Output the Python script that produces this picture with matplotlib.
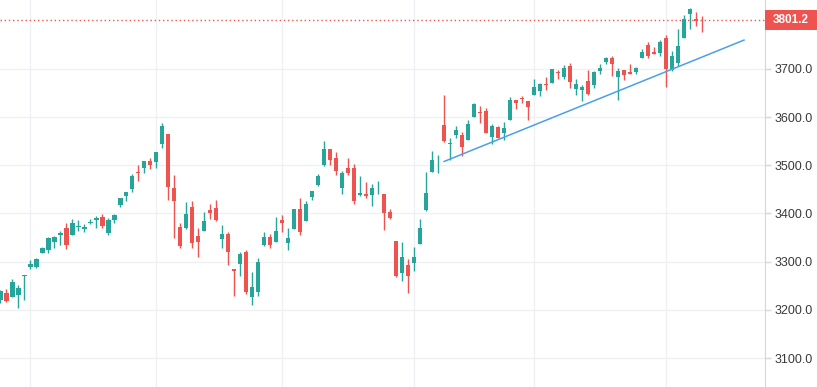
import pandas as pd
import numpy as np
import matplotlib
matplotlib.use("Agg")
import matplotlib.pyplot as plt
from matplotlib.patches import Rectangle
from matplotlib.transforms import blended_transform_factory

# daily candles, 27 Jul 2020 - 12 Jan 2021
holidays = ['2020-09-07', '2020-11-26', '2020-12-25', '2021-01-01']
dates = [d for d in pd.bdate_range('2020-07-27', '2021-01-12') if d.strftime('%Y-%m-%d') not in holidays]

opens = [3219.84, 3234.27, 3227.22, 3231.76, 3270.45, 3288.26, 3289.92, 3317.37, 3323.17, 3340.05,
         3356.04, 3370.34, 3355.46, 3372.95, 3368.66, 3380.86, 3387.04, 3392.51, 3360.48, 3386.01,
         3418.09, 3435.95, 3449.97, 3485.14, 3494.69, 3509.73, 3507.44, 3543.76, 3564.74, 3453.60,
         3371.88, 3369.82, 3412.56, 3352.70, 3363.56, 3407.73, 3411.23, 3346.86, 3357.38, 3285.57,
         3295.75, 3320.11, 3226.14, 3236.66, 3333.90, 3350.92, 3341.21, 3385.87, 3338.94, 3367.27,
         3408.74, 3384.56, 3434.28, 3459.67, 3500.02, 3534.01, 3515.47, 3453.72, 3493.50, 3493.66,
         3439.38, 3439.91, 3438.50, 3464.90, 3441.42, 3403.15, 3342.48, 3277.17, 3293.59, 3296.20,
         3336.25, 3406.46, 3485.74, 3508.34, 3583.04, 3543.26, 3563.22, 3562.67, 3552.57, 3600.16,
         3610.31, 3612.09, 3559.41, 3579.31, 3566.82, 3594.52, 3635.50, 3638.55, 3634.18, 3645.87,
         3653.78, 3668.28, 3670.94, 3694.73, 3683.05, 3705.98, 3659.13, 3656.08, 3675.27, 3666.41,
         3696.25, 3713.65, 3722.39, 3684.28, 3698.08, 3693.42, 3694.03, 3723.03, 3750.01, 3736.19,
         3733.27, 3764.61, 3698.02, 3712.20, 3764.71, 3815.05, 3803.14, 3801.62]
highs = [3241.43, 3243.72, 3264.74, 3250.92, 3272.17, 3302.73, 3306.84, 3330.77, 3351.03, 3352.54,
         3363.29, 3381.01, 3387.89, 3387.24, 3378.51, 3387.59, 3395.06, 3399.54, 3390.80, 3399.96,
         3432.09, 3444.21, 3481.07, 3501.38, 3509.23, 3514.77, 3528.03, 3588.11, 3564.85, 3479.15,
         3379.97, 3424.77, 3425.30, 3368.95, 3402.93, 3419.48, 3428.92, 3375.17, 3362.27, 3285.57,
         3320.31, 3323.35, 3278.70, 3306.88, 3360.74, 3357.92, 3393.56, 3397.18, 3369.10, 3409.57,
         3431.56, 3426.26, 3447.28, 3482.34, 3549.85, 3534.01, 3527.94, 3489.08, 3515.76, 3502.42,
         3476.93, 3464.86, 3460.53, 3466.46, 3441.42, 3409.51, 3342.48, 3341.05, 3304.93, 3330.14,
         3389.49, 3486.25, 3529.05, 3521.58, 3645.99, 3557.22, 3581.16, 3569.02, 3593.66, 3628.51,
         3623.11, 3619.09, 3585.22, 3581.23, 3589.81, 3642.31, 3635.50, 3644.31, 3634.18, 3678.45,
         3670.96, 3682.73, 3699.20, 3697.41, 3708.45, 3712.39, 3678.49, 3665.91, 3697.61, 3695.29,
         3711.27, 3725.12, 3726.70, 3702.90, 3698.26, 3711.24, 3703.82, 3740.51, 3756.12, 3744.63,
         3760.20, 3769.99, 3737.83, 3783.04, 3811.55, 3826.69, 3817.86, 3810.78]
lows = [3214.25, 3216.17, 3227.22, 3204.13, 3220.26, 3284.53, 3286.37, 3317.37, 3318.14, 3328.72,
        3335.44, 3326.44, 3355.46, 3363.35, 3361.64, 3379.22, 3370.15, 3369.66, 3354.69, 3379.31,
        3413.13, 3425.84, 3444.15, 3468.35, 3484.32, 3493.25, 3494.60, 3535.23, 3427.41, 3349.63,
        3329.27, 3366.84, 3329.25, 3310.47, 3363.56, 3389.25, 3384.45, 3328.82, 3292.40, 3229.10,
        3270.95, 3232.57, 3209.45, 3228.44, 3332.91, 3327.54, 3340.47, 3361.39, 3323.69, 3367.27,
        3354.54, 3384.56, 3428.15, 3458.07, 3499.61, 3500.86, 3480.55, 3440.89, 3480.45, 3419.93,
        3435.65, 3433.06, 3415.34, 3440.45, 3364.86, 3388.71, 3268.89, 3259.82, 3233.94, 3279.74,
        3336.25, 3405.17, 3485.74, 3484.34, 3547.48, 3511.91, 3557.00, 3518.58, 3552.57, 3600.16,
        3588.68, 3567.33, 3543.84, 3556.85, 3552.77, 3594.52, 3617.76, 3629.33, 3594.39, 3645.87,
        3644.84, 3657.17, 3670.94, 3678.88, 3678.83, 3660.54, 3645.18, 3633.40, 3645.84, 3659.62,
        3688.57, 3710.87, 3685.84, 3636.48, 3676.16, 3689.28, 3689.32, 3723.03, 3723.31, 3730.21,
        3726.88, 3662.71, 3695.07, 3705.34, 3764.71, 3783.60, 3789.02, 3776.51]
closes = [3239.41, 3218.44, 3258.44, 3246.22, 3271.12, 3294.61, 3306.51, 3327.77, 3349.16, 3351.28,
          3360.47, 3333.69, 3380.35, 3373.43, 3372.85, 3381.99, 3389.78, 3374.85, 3385.51, 3397.16,
          3431.28, 3443.62, 3478.73, 3484.55, 3508.01, 3500.31, 3526.65, 3580.84, 3455.06, 3426.96,
          3331.84, 3398.96, 3339.19, 3340.97, 3383.54, 3401.20, 3385.49, 3357.01, 3319.47, 3281.06,
          3315.57, 3236.92, 3246.59, 3298.46, 3351.60, 3335.47, 3363.00, 3380.80, 3348.42, 3408.63,
          3360.97, 3419.44, 3446.83, 3477.14, 3534.22, 3511.93, 3488.67, 3483.34, 3483.81, 3426.92,
          3443.12, 3435.56, 3453.49, 3465.39, 3400.97, 3390.68, 3271.03, 3310.11, 3269.96, 3310.24,
          3369.16, 3443.44, 3510.45, 3509.44, 3550.50, 3545.53, 3572.66, 3537.01, 3585.15, 3626.91,
          3609.53, 3567.79, 3581.87, 3557.54, 3577.59, 3635.41, 3629.65, 3638.35, 3621.63, 3662.45,
          3669.01, 3666.72, 3699.12, 3691.96, 3702.25, 3672.82, 3668.10, 3663.46, 3647.49, 3694.62,
          3701.17, 3722.48, 3709.41, 3694.92, 3687.26, 3690.01, 3703.06, 3735.36, 3727.04, 3732.04,
          3756.07, 3700.65, 3726.86, 3748.14, 3803.79, 3824.68, 3799.61, 3801.19]

# trend line drawn on the chart (start / end)
trend_dates = ['2020-11-09', '2021-01-21']
trend_prices = [3508, 3760]

price_ticks = [3100, 3200, 3300, 3400, 3500, 3600, 3700]

up_color = '#26a69a'
down_color = '#ef5350'

df = pd.DataFrame({'open': opens, 'high': highs, 'low': lows, 'close': closes}, index=dates)
x = np.arange(len(df))
up = df['close'] >= df['open']
colors = np.where(up, up_color, down_color)

fig = plt.figure(figsize=(8.17, 3.87), dpi=100)
ax = fig.add_axes([0, 0, 765 / 817, 1])

# grid: month starts + price levels
month_starts = [i for i in range(1, len(df)) if df.index[i].month != df.index[i - 1].month]
for m in month_starts:
    ax.axvline(m, color='#eef0f3', lw=1, zorder=0)
for p in price_ticks:
    ax.axhline(p, color='#eef0f3', lw=1, zorder=0)

# wicks and bodies
ax.vlines(x, df['low'], df['high'], colors=colors, lw=1, zorder=2)
body_bottom = np.minimum(df['open'], df['close'])
body_height = np.maximum(np.abs(df['close'] - df['open']), 1.5)
ax.bar(x, body_height, bottom=body_bottom, width=0.75, color=colors, lw=0, zorder=3)

# trend line (x position counted in trading days)
all_days = list(df.index) + list(pd.bdate_range(df.index[-1] + pd.Timedelta(days=1), periods=20))
trend_x = [all_days.index(pd.Timestamp(d)) for d in trend_dates]
ax.plot(trend_x, trend_prices, color='#4aa0e8', lw=1.1, zorder=4)

# last price line + label
last = df['close'].iloc[-1]
ax.axhline(last, color=down_color, lw=1, ls=(0, (1, 2)), zorder=1)
tr = blended_transform_factory(fig.transFigure, ax.transData)
ax.add_patch(Rectangle((765 / 817, last - 20.5), 52 / 817, 41, transform=tr,
                       facecolor=down_color, edgecolor='none', clip_on=False, zorder=10))
ax.text(791 / 817, last, f'{last:.1f}', transform=tr, ha='center', va='center',
        color='white', fontsize=8.5, fontweight='bold', family='Liberation Sans', zorder=11)

ax.set_xlim(-0.05, 127.5)
ax.set_ylim(3039.8, 3843.2)
ax.set_yticks(price_ticks)
ax.set_yticklabels([f'{p:.1f}' for p in price_ticks])
ax.yaxis.tick_right()
ax.tick_params(axis='y', length=4, width=1, color='#d4d6da', labelcolor='#3a3a3a',
               labelsize=9, pad=3)
for lab in ax.get_yticklabels():
    lab.set_family('Liberation Sans')
ax.set_xticks([])
for s in ['top', 'left', 'bottom']:
    ax.spines[s].set_visible(False)
ax.spines['right'].set_color('#d4d6da')

fig.savefig('out.png', dpi=100)
